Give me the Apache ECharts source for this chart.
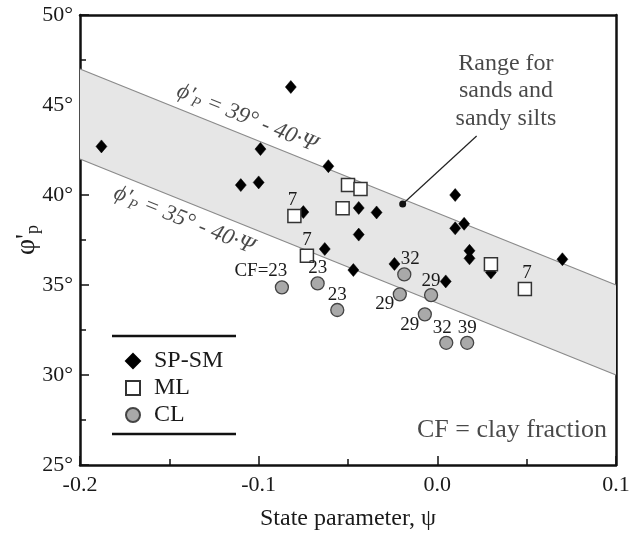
<!DOCTYPE html>
<html>
<head>
<meta charset="utf-8">
<script src="https://cdn.jsdelivr.net/npm/echarts@6/dist/echarts.min.js"></script>
<style>html,body{margin:0;padding:0;background:#fff}#c{width:642px;height:539px}</style>
</head>
<body>
<div id="c"></div>
<script>
// ---- data ----
const xTicks = [-0.2, -0.1, 0.0, 0.1];
const yTicks = [25, 30, 35, 40, 45, 50];
const bandUpper = [[-0.2, 47], [0.1, 35]];
const bandLower = [[-0.2, 42], [0.1, 30]];
const spsm = [[-0.188,42.7],[-0.082,46.0],[-0.099,42.55],[-0.061,41.6],[-0.110,40.55],[-0.100,40.7],
  [-0.075,39.05],[-0.063,37.0],[-0.047,35.83],[-0.044,39.28],[-0.034,39.03],[-0.044,37.8],[-0.024,36.17],
  [0.010,40.0],[0.010,38.15],[0.015,38.4],[0.0047,35.2],[0.018,36.9],[0.018,36.48],[0.030,35.7],[0.070,36.43]];
const ml = [[-0.080,38.83],[-0.073,36.63],[-0.050,40.56],[-0.043,40.33],[-0.053,39.26],[0.030,36.15],[0.049,34.78]];
const mlLabels = ['7','7','','','','','7'];
const cl = [[-0.087,34.87],[-0.067,35.09],[-0.056,33.61],[-0.0185,35.59],[-0.021,34.48],[-0.0035,34.44],
  [-0.007,33.37],[0.005,31.79],[0.0167,31.79]];
const clLabels = ['CF=23','23','23','32','29','29','29','32','39'];
const pointer = [[0.022,43.28],[-0.0194,39.5]];
const upperText = 'ϕ\'|P| = 39° - 40·Ψ';
const lowerText = 'ϕ\'|P| = 35° - 40·Ψ';
const upperTextAt = [-0.1065, 44.28];
const lowerTextAt = [-0.1418, 38.61];
const rangeText = 'Range for\nsands and\nsandy silts';
const rangeTextAt = [0.0384, 45.78];
const cfText = 'CF = clay fraction';
const cfTextAt = [0.095, 26.94];

// ---- styling / layout (not data) ----
const FONT = '"Liberation Serif", "Times New Roman", serif';
const TXT = '#1a1a1a';
const mlOffsets = [[-2,-16],[0,-16],[0,0],[0,0],[0,0],[0,0],[2,-16]];
const clOffsets = [[-21,-16],[0,-15],[0,-15],[6,-15],[-15,10],[0,-14],[-15,11],[-4,-15],[0,-15]];
const ANGLE = -21.95;

function bandLabelRich(t){
  const p = t.split('|');
  return '{i|' + p[0] + '}{s|' + p[1] + '}{i|' + p[2] + '}';
}
const bandRich = {
  i: {fontFamily: FONT, fontStyle: 'italic', fontSize: 23, color: TXT, lineHeight: 26, verticalAlign: 'middle'},
  s: {fontFamily: FONT, fontStyle: 'italic', fontSize: 15, color: TXT, lineHeight: 26, verticalAlign: 'bottom', padding: [12,0,0,0]}
};

const chart = echarts.init(document.getElementById('c'));
const axisLineStyle = {color: '#111', width: 2.5};

const option = {
  animation: false,
  backgroundColor: '#fff',
  grid: {left: 80, right: 26, top: 15, bottom: 74, containLabel: false, outerBoundsMode: 'none'},
  legend: {
    orient: 'vertical', left: 120, top: 344, itemGap: 3, itemWidth: 14, itemHeight: 14,
    data: ['SP-SM', 'ML', 'CL'],
    textStyle: {fontFamily: FONT, fontSize: 24, color: TXT, lineHeight: 24, padding: [0,0,0,9]}
  },
  xAxis: [{
    type: 'value', min: xTicks[0], max: xTicks[xTicks.length-1], interval: 0.1,
    axisLine: {onZero: false, lineStyle: axisLineStyle},
    axisTick: {inside: true, length: 9, lineStyle: {color: '#111', width: 1.5}},
    minorTick: {show: true, splitNumber: 2, length: 6, lineStyle: {color: '#111', width: 1.5}},
    splitLine: {show: false},
    axisLabel: {fontFamily: FONT, fontSize: 22, color: TXT, margin: 9, formatter: v => v.toFixed(1)},
    name: 'State parameter, ψ', nameLocation: 'middle', nameGap: 42, nameMoveOverlap: false,
    nameTextStyle: {fontFamily: FONT, fontSize: 24, color: TXT}
  }, {
    type: 'value', position: 'top', min: xTicks[0], max: xTicks[xTicks.length-1],
    axisLine: {onZero: false, lineStyle: axisLineStyle}, axisTick: {show: false}, axisLabel: {show: false}, splitLine: {show: false}
  }],
  yAxis: [{
    type: 'value', min: yTicks[0], max: yTicks[yTicks.length-1], interval: 5,
    axisLine: {onZero: false, lineStyle: axisLineStyle},
    axisTick: {inside: true, length: 9, lineStyle: {color: '#111', width: 1.5}},
    minorTick: {show: true, splitNumber: 2, length: 6, lineStyle: {color: '#111', width: 1.5}},
    splitLine: {show: false},
    axisLabel: {fontFamily: FONT, fontSize: 22, color: TXT, margin: 7, formatter: v => v + '°'},
    name: '{a|φ\'}{b|p}', nameLocation: 'middle', nameGap: 38, nameRotate: 90, nameMoveOverlap: false,
    nameTextStyle: {rich: {
      a: {fontFamily: FONT, fontSize: 28, color: TXT, lineHeight: 30},
      b: {fontFamily: FONT, fontSize: 18, color: TXT, lineHeight: 30, verticalAlign: 'bottom', padding: [14,0,0,0]}
    }}
  }, {
    type: 'value', position: 'right', min: yTicks[0], max: yTicks[yTicks.length-1],
    axisLine: {onZero: false, lineStyle: axisLineStyle}, axisTick: {show: false}, axisLabel: {show: false}, splitLine: {show: false}
  }],
  graphic: [
    {type: 'line', shape: {x1: 112, y1: 336, x2: 236, y2: 336}, style: {stroke: '#111', lineWidth: 2.5}},
    {type: 'line', shape: {x1: 112, y1: 434, x2: 236, y2: 434}, style: {stroke: '#111', lineWidth: 2.5}}
  ],
  series: [
    {
      type: 'custom', silent: true, z: 1, data: [bandUpper[0]],
      renderItem: function (params, api) {
        const up = bandUpper.map(p => api.coord(p));
        const lo = bandLower.map(p => api.coord(p));
        return {type: 'group', children: [
          {type: 'polygon', shape: {points: up.concat(lo.slice().reverse())}, style: {fill: '#e6e6e6'}},
          {type: 'polyline', shape: {points: up}, style: {stroke: '#8a8a8a', lineWidth: 1.2, fill: null}},
          {type: 'polyline', shape: {points: lo}, style: {stroke: '#8a8a8a', lineWidth: 1.2, fill: null}}
        ]};
      }
    },
    {
      type: 'line', z: 3, data: pointer.map((p, i) => ({value: p, symbolSize: i === 0 ? 0 : 7})),
      symbol: 'circle', lineStyle: {color: '#222', width: 1.2}, itemStyle: {color: '#111', opacity: 1}, silent: true
    },
    {
      name: 'SP-SM', type: 'scatter', z: 5, data: spsm, symbol: 'diamond', symbolSize: [11, 13],
      itemStyle: {color: '#000', borderColor: '#000', borderWidth: 0.5, opacity: 1}
    },
    {
      name: 'ML', type: 'scatter', z: 6, symbol: 'rect', symbolSize: 13,
      itemStyle: {color: '#fff', borderColor: '#333', borderWidth: 1.5, opacity: 1},
      data: ml.map((p, i) => ({value: p, label: {show: mlLabels[i] !== '', formatter: mlLabels[i], offset: mlOffsets[i]}})),
      label: {position: 'inside', fontFamily: FONT, fontSize: 19, color: TXT}
    },
    {
      name: 'CL', type: 'scatter', z: 6, symbol: 'circle', symbolSize: 13,
      itemStyle: {color: '#a9a9a9', borderColor: '#444', borderWidth: 1.3, opacity: 1},
      data: cl.map((p, i) => ({value: p, label: {show: true, formatter: clLabels[i], offset: clOffsets[i]}})),
      label: {position: 'inside', fontFamily: FONT, fontSize: 19, color: TXT}
    },
    {
      type: 'scatter', z: 7, symbolSize: 0, silent: true,
      data: [
        {value: upperTextAt, label: {show: true, formatter: bandLabelRich(upperText), rotate: ANGLE, rich: bandRich}},
        {value: lowerTextAt, label: {show: true, formatter: bandLabelRich(lowerText), rotate: ANGLE, rich: bandRich}},
        {value: rangeTextAt, label: {show: true, formatter: rangeText, fontFamily: FONT, fontSize: 24, lineHeight: 27.5, color: TXT, align: 'center'}},
        {value: cfTextAt, label: {show: true, formatter: cfText, fontFamily: FONT, fontSize: 26, color: TXT, align: 'right'}}
      ],
      label: {position: 'inside'}
    }
  ]
};
chart.setOption(option);
</script>
</body>
</html>
